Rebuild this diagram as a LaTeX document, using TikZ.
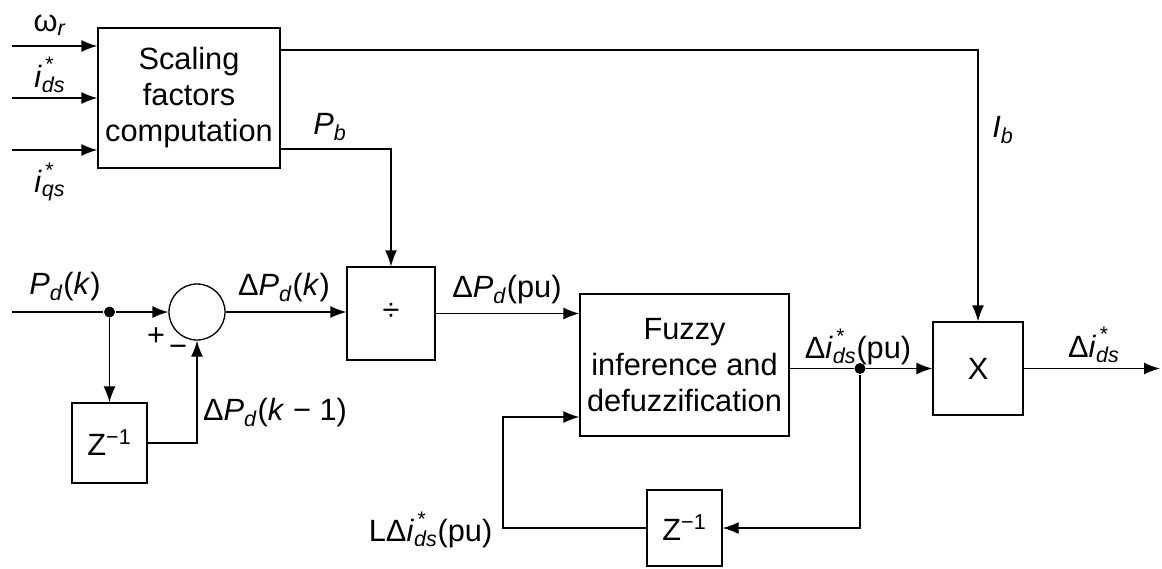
\documentclass[tikz,border=0pt]{standalone}
\usepackage{fontspec}
\setmainfont{Liberation Sans}
\usepackage{tikz}
\usetikzlibrary{arrows.meta, positioning, calc}

\newcommand{\istar}[1]{\textit{i}\rlap{\raisebox{0.5em}{\fontsize{12}{12}\selectfont\,*}}\textsubscript{\textit{#1}}}
\newcommand{\Pd}{\textit{P}\textsubscript{\textit{d}}}

\begin{document}
\begin{tikzpicture}[
  line width=0.75pt,
  >={Latex[length=3.2mm,width=2.4mm]},
  font=\fontsize{17.5}{20.5}\selectfont,
  block/.style={draw, minimum width=#1, align=center, inner sep=0pt},
  sumnode/.style={draw, circle, minimum size=1.12cm, inner sep=0pt},
  lbl/.style={inner sep=0pt},
  dot/.style={circle, fill, minimum size=2.2mm, inner sep=0pt},
]
  \useasboundingbox (0,0) rectangle (23.24,-11.36);

  % Blocks
  \node[block=3.64cm, minimum height=2.8cm] (scal) at (3.78,-1.96) {Scaling\\factors\\computation};
  \node[sumnode] (sum) at (3.94,-6.24) {};
  \node[block=1.76cm, minimum height=1.86cm] (div) at (7.82,-6.27) {\raisebox{0.1em}{÷}};
  \node[block=4.18cm, minimum height=2.84cm] (fuzzy) at (13.69,-7.3) {Fuzzy\\inference and\\defuzzification};
  \node[block=1.5cm, minimum height=1.6cm] (zdel1) at (2.19,-8.86) {Z\textsuperscript{−1}};
  \node[block=1.5cm, minimum height=1.52cm] (zdel2) at (13.69,-10.56) {Z\textsuperscript{−1}};
  \node[block=1.8cm, minimum height=1.86cm] (mult) at (19.56,-7.37) {X};

  % Inputs of the scaling block
  \coordinate (wr) at (0.24,-0.92);
  \coordinate (ids) at (0.24,-1.96);
  \coordinate (iqs) at (0.24,-3.0);
  \draw[->] (wr) -- (wr -| scal.west);
  \draw[->] (ids) -- (ids -| scal.west);
  \draw[->] (iqs) -- (iqs -| scal.west);
  \node[lbl] (wrlbl) at (1.0,-0.5) {ω\textsubscript{\textit{r}}};
  \node[lbl] (idslbl) at (1.0,-1.5) {\istar{ds}};
  \node[lbl] (iqslbl) at (1.0,-3.64) {\istar{qs}};

  % Scaling outputs
  \coordinate (ib) at (3.78,-1.0);
  \coordinate (pb) at (3.78,-2.98);
  \draw[->] (ib -| scal.east) -| (mult.north);
  \draw[->] (pb -| scal.east) -| (div.north);
  \node[lbl] (pblbl) at (6.6,-2.54) {\textit{P}\textsubscript{\textit{b}}};
  \node[lbl] (iblbl) at (20.06,-2.6) {\textit{I}\textsubscript{\textit{b}}};

  % Error path
  \coordinate (pdin) at (0.24,-6.24);
  \node[dot] (pdot) at (zdel1 |- sum) {};
  \draw (pdin) -- (pdot);
  \draw[->] (pdot) -- (sum.west);
  \draw[->] (pdot) -- (zdel1.north);
  \draw[->] (zdel1.east) -| (sum.south);
  \draw[->] (sum.east) -- (sum.east -| div.west);
  \node[lbl] (pdlbl) at (1.3,-5.74) {\Pd(\textit{k})};
  \node[lbl] (plus) at (3.12,-6.74) {+};
  \node[lbl] (minus) at (3.56,-7.02) {−};
  \node[lbl] (dpdlbl) at (5.68,-5.76) {Δ\Pd(\textit{k})};
  \node[lbl] (dpd1lbl) at (5.5,-8.26) {Δ\Pd(\textit{k} − 1)};

  % Fuzzy controller
  \draw[->] (div.east) -- (div.east -| fuzzy.west);
  \node[lbl] (dpdpu) at (10.14,-5.8) {Δ\Pd(pu)};
  \node[dot] (idot) at (17.2,-7.37) {};
  \draw (fuzzy.east |- idot) -- (idot);
  \draw[->] (idot) -- (mult.west);
  \draw[->] (idot) |- (zdel2.east);
  \coordinate (fbk) at (10.06,-8.34);
  \draw[->] (zdel2.west) -| (fbk) -- (fbk -| fuzzy.west);
  \node[lbl, anchor=east] (lidlbl) at (9.86,-10.6) {LΔ\istar{ds}(pu)};
  \node[lbl] (didpu) at (17.16,-6.94) {Δ\istar{ds}(pu)};

  % Output
  \coordinate (out) at (23.2,-7.37);
  \draw[->] (mult.east) -- (out);
  \node[lbl] (didlbl) at (21.88,-6.9) {Δ\istar{ds}};

\end{tikzpicture}
\end{document}
